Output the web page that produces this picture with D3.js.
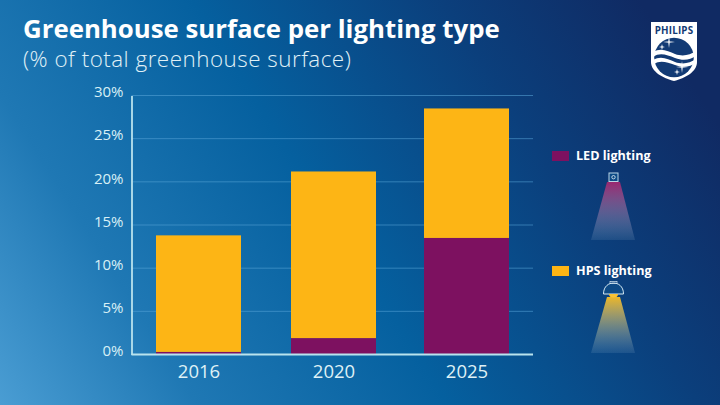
<!DOCTYPE html>
<html>
<head>
<meta charset="utf-8">
<script src="https://cdn.jsdelivr.net/npm/d3@7"></script>
<style>
html, body { margin: 0; padding: 0; background: #0b3a77; }
svg { display: block; }
text { font-family: "Open Sans", sans-serif; }
</style>
</head>
<body>
<svg id="chart" width="720" height="405"></svg>
<script>
const years = ["2016", "2020", "2025"];
const ledValues = [0.3, 1.9, 13.5];
const hpsValues = [13.5, 19.3, 15.0];
const yTicks = [0, 5, 10, 15, 20, 25, 30];
const seriesNames = ["led", "hps"];
const legendLabels = ["LED lighting", "HPS lighting"];

const ledColor = "#7d1160";
const hpsColor = "#fdb515";
const axisColor = "#b9e3ee";

const svg = d3.select("#chart");
const defs = svg.append("defs");

// background runs from light blue bottom left to navy top right
const bg = defs.append("linearGradient").attr("id", "bg")
    .attr("gradientUnits", "userSpaceOnUse")
    .attr("x1", 0).attr("y1", 405).attr("x2", 640).attr("y2", 0);
bg.append("stop").attr("offset", "0").attr("stop-color", "#4a9dd3");
bg.append("stop").attr("offset", "0.22").attr("stop-color", "#1f78b4");
bg.append("stop").attr("offset", "0.5").attr("stop-color", "#05609f");
bg.append("stop").attr("offset", "0.78").attr("stop-color", "#0b3f7c");
bg.append("stop").attr("offset", "1").attr("stop-color", "#102a63");

svg.append("rect").attr("width", 720).attr("height", 405).attr("fill", "url(#bg)");

// titles
svg.append("text").attr("x", 23).attr("y", 37.5)
    .attr("fill", "#fff").attr("font-size", 25.8).attr("font-weight", 700)
    .text("Greenhouse surface per lighting type");
svg.append("text").attr("x", 23).attr("y", 66.5)
    .attr("fill", "#e0f1f7").attr("font-size", 22.4).attr("font-weight", 300)
    .attr("letter-spacing", 0.5)
    .text("(% of total greenhouse surface)");

// scales
const y = d3.scaleLinear().domain([0, 30]).range([354.5, 95.5]);
const barWidth = 85;
const centers = d3.scaleOrdinal().domain(years).range([198.5, 333.5, 466.5]);

// gridlines
svg.append("g").selectAll("line").data(yTicks.slice(1)).enter()
    .append("line")
    .attr("x1", 131.5).attr("x2", 533)
    .attr("y1", d => y(d)).attr("y2", d => y(d))
    .attr("stroke", "#5aa5d8").attr("stroke-opacity", 0.55).attr("stroke-width", 1);

// stacked bars
const rows = years.map((year, i) => ({ year: year, led: ledValues[i], hps: hpsValues[i] }));
const stacked = d3.stack().keys(seriesNames)(rows);
const color = d3.scaleOrdinal().domain(seriesNames).range([ledColor, hpsColor]);

svg.append("g").selectAll("g").data(stacked).enter()
    .append("g").attr("fill", d => color(d.key))
    .selectAll("rect").data(d => d).enter()
    .append("rect")
    .attr("x", d => centers(d.data.year) - barWidth / 2)
    .attr("width", barWidth)
    .attr("y", d => y(d[1]))
    .attr("height", d => y(d[0]) - y(d[1]));

// axes
const yAxis = d3.axisLeft(y).tickValues(yTicks).tickFormat(d => d + "%").tickSize(0).tickPadding(8);
const gy = svg.append("g").attr("transform", "translate(131.5,0)").call(yAxis);
gy.select(".domain").attr("stroke", axisColor).attr("stroke-width", 1.8);
gy.selectAll("text").attr("fill", "#d8f0f6").attr("font-size", 15).attr("font-weight", 400)
    .attr("font-family", '"Open Sans", sans-serif')
    .attr("transform", "translate(0,-3.5)");

const xAxis = d3.axisBottom(centers).tickSize(0).tickPadding(10);
const gx = svg.append("g").attr("transform", "translate(0,354.5)").call(xAxis);
gx.select(".domain").attr("d", "M131.5,0H533").attr("stroke", axisColor).attr("stroke-width", 1.8);
gx.selectAll("text").attr("fill", "#dff1f6").attr("font-size", 18.5).attr("font-weight", 400)
    .attr("font-family", '"Open Sans", sans-serif');

// legend
const legendY = [156, 271];
const legendColors = [ledColor, hpsColor];
legendLabels.forEach((label, i) => {
    svg.append("rect").attr("x", 552).attr("y", legendY[i] - 5)
        .attr("width", 17).attr("height", 10).attr("fill", legendColors[i]);
    svg.append("text").attr("x", 576).attr("y", legendY[i] + 4)
        .attr("fill", "#fff").attr("font-size", 12.6).attr("font-weight", 700).text(label);
});

// light beams under the legend entries
function beam(id, col, topY, botY) {
    const g = defs.append("linearGradient").attr("id", id).attr("x1", 0).attr("y1", 0).attr("x2", 0).attr("y2", 1);
    g.append("stop").attr("offset", "0").attr("stop-color", col).attr("stop-opacity", 0.95);
    g.append("stop").attr("offset", "1").attr("stop-color", "#a9c8dd").attr("stop-opacity", 0.12);
    svg.append("path")
        .attr("d", `M607,${topY}L620,${topY}L635,${botY}L591,${botY}Z`)
        .attr("fill", `url(#${id})`);
}
beam("beamLed", "#a1276f", 182, 240);
beam("beamHps", "#f7bd25", 297, 353);

// LED lamp icon
svg.append("rect").attr("x", 609).attr("y", 173).attr("width", 9).attr("height", 8.5)
    .attr("fill", "#0d4a85").attr("stroke", "#b9d6e6").attr("stroke-width", 1);
svg.append("circle").attr("cx", 613.5).attr("cy", 177.2).attr("r", 1.7)
    .attr("fill", "none").attr("stroke", "#e6f2f7").attr("stroke-width", 0.8);

// HPS lamp icon
svg.append("path").attr("d", "M603.5,294 C603.5,286 609,283 613.5,283 C618,283 623.5,286 623.5,294 Z")
    .attr("fill", "#0d4a85").attr("stroke", "#d5e8f2").attr("stroke-width", 1);
svg.append("rect").attr("x", 610).attr("y", 281.5).attr("width", 7).attr("height", 2)
    .attr("fill", "none").attr("stroke", "#d5e8f2").attr("stroke-width", 0.7);
svg.append("path").attr("d", "M609,294 A4.5,3.5 0 0 0 618,294 Z").attr("fill", "#f7c234");

// logo shield
const logo = svg.append("g");
logo.append("path")
    .attr("d", "M651,22H697V62C697,72 685,78 674,81C663,78 651,72 651,62Z")
    .attr("fill", "#fff");
logo.append("text").attr("x", 674).attr("y", 34).attr("text-anchor", "middle")
    .attr("fill", "#123a74").attr("font-size", 9.8).attr("font-weight", 700)
    .attr("letter-spacing", 0.2).text("PHILIPS");
logo.append("circle").attr("cx", 674).attr("cy", 57.5).attr("r", 19.8).attr("fill", "#123a74");
logo.append("path").attr("d", "M653,52C661,47 668,51 675,54C683,57 690,55 696,51V56C690,60 683,61 675,58C667,55 660,52 653,57Z")
    .attr("fill", "#fff");
logo.append("path").attr("d", "M653,60C661,55 668,59 675,62C683,65 690,63 696,59V63C690,67 683,68 675,65C667,62 660,60 654,64Z")
    .attr("fill", "#fff");
// stars
const stars = [[669, 42, 6], [682, 67, 6], [662, 47, 3], [677, 72, 3]];
stars.forEach(s => {
    logo.append("path")
        .attr("d", `M${s[0] - s[2]},${s[1]}L${s[0]},${s[1] - 0.8}L${s[0] + s[2]},${s[1]}L${s[0]},${s[1] + 0.8}Z M${s[0]},${s[1] - s[2]}L${s[0] + 0.8},${s[1]}L${s[0]},${s[1] + s[2]}L${s[0] - 0.8},${s[1]}Z`)
        .attr("fill", "#fff");
});
</script>
</body>
</html>
